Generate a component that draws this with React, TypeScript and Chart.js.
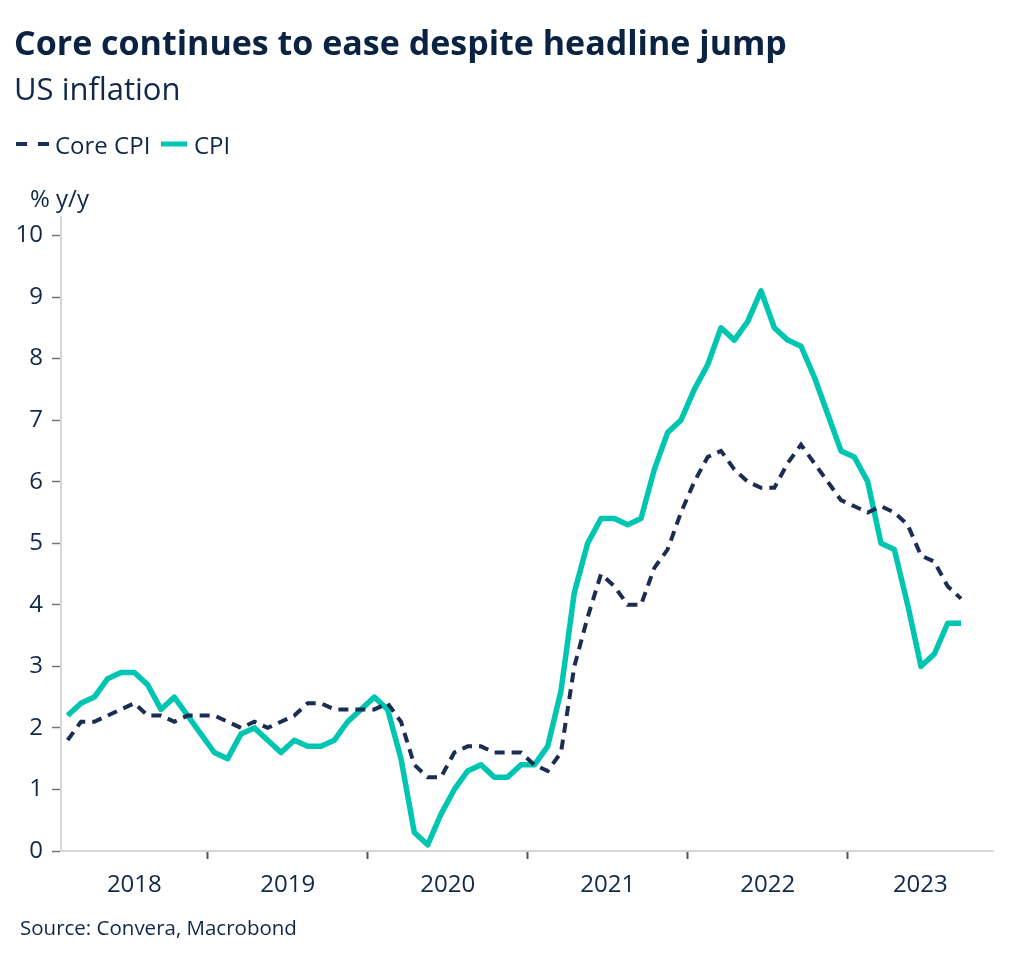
import React, { useEffect, useRef } from "react";
import { Chart, registerables } from "chart.js";

Chart.register(...registerables);

// ---- data ----
const START_YEAR = 2018;
const START_MONTH = 2; // first observation: February 2018
const yearLabels = ["2018", "2019", "2020", "2021", "2022", "2023"];
const yTickValues = [0, 1, 2, 3, 4, 5, 6, 7, 8, 9, 10];

const coreCpi = [
  1.8, 2.1, 2.1, 2.2, 2.3, 2.4, 2.2, 2.2, 2.1, 2.2, 2.2,
  2.2, 2.1, 2.0, 2.1, 2.0, 2.1, 2.2, 2.4, 2.4, 2.3, 2.3, 2.3,
  2.3, 2.4, 2.1, 1.4, 1.2, 1.2, 1.6, 1.7, 1.7, 1.6, 1.6, 1.6,
  1.4, 1.3, 1.6, 3.0, 3.8, 4.5, 4.3, 4.0, 4.0, 4.6, 4.9, 5.5,
  6.0, 6.4, 6.5, 6.2, 6.0, 5.9, 5.9, 6.3, 6.6, 6.3, 6.0, 5.7,
  5.6, 5.5, 5.6, 5.5, 5.3, 4.8, 4.7, 4.3, 4.1,
];

const cpi = [
  2.2, 2.4, 2.5, 2.8, 2.9, 2.9, 2.7, 2.3, 2.5, 2.2, 1.9,
  1.6, 1.5, 1.9, 2.0, 1.8, 1.6, 1.8, 1.7, 1.7, 1.8, 2.1, 2.3,
  2.5, 2.3, 1.5, 0.3, 0.1, 0.6, 1.0, 1.3, 1.4, 1.2, 1.2, 1.4,
  1.4, 1.7, 2.6, 4.2, 5.0, 5.4, 5.4, 5.3, 5.4, 6.2, 6.8, 7.0,
  7.5, 7.9, 8.5, 8.3, 8.6, 9.1, 8.5, 8.3, 8.2, 7.7, 7.1, 6.5,
  6.4, 6.0, 5.0, 4.9, 4.0, 3.0, 3.2, 3.7, 3.7,
];

const TITLE = "Core continues to ease despite headline jump";
const SUBTITLE = "US inflation";
const LEGEND_CORE = "Core CPI";
const LEGEND_CPI = "CPI";
const Y_UNIT = "% y/y";
const SOURCE = "Source: Convera, Macrobond";

// ---- styling ----
const NAVY = "#10284a";
const TITLE_NAVY = "#0b2343";
const TEAL = "#00c5b1";
const CORE_COLOR = "#1b2d52";
const FONT = "'Open Sans', 'Noto Sans', sans-serif";

const X_MIN = -0.5;
const X_MAX = 69.4;

export default function App() {
  const ref = useRef<HTMLCanvasElement | null>(null);

  useEffect(() => {
    const canvas = ref.current;
    if (!canvas) return;

    // x positions: month index from first observation
    const yearBoundaries = yearLabels
      .slice(1)
      .map((_, k) => (k + 1) * 12 - (START_MONTH - 1) - 0.5);
    const edges = [X_MIN, ...yearBoundaries, X_MAX];
    const labelMap = new Map<number, string>();
    const boundarySet = new Set<number>(yearBoundaries);
    const xTicks: { value: number }[] = [];
    yearLabels.forEach((lab, k) => {
      const c = (edges[k] + edges[k + 1]) / 2;
      labelMap.set(c, lab);
      xTicks.push({ value: c });
    });
    yearBoundaries.forEach((b) => xTicks.push({ value: b }));
    xTicks.sort((a, b) => a.value - b.value);

    const textPlugin = {
      id: "texts",
      afterDraw(chart: any) {
        const ctx = chart.ctx as CanvasRenderingContext2D;
        ctx.save();
        ctx.textBaseline = "alphabetic";
        ctx.textAlign = "left";
        ctx.fillStyle = TITLE_NAVY;
        ctx.font = `bold 34px ${FONT}`;
        ctx.fillText(TITLE, 14, 55);
        ctx.fillStyle = NAVY;
        ctx.font = `31px ${FONT}`;
        ctx.fillText(SUBTITLE, 14, 100);

        // legend
        ctx.font = `24px ${FONT}`;
        ctx.strokeStyle = CORE_COLOR;
        ctx.lineWidth = 4;
        ctx.setLineDash([11, 11]);
        ctx.beginPath();
        ctx.moveTo(16, 144);
        ctx.lineTo(49, 144);
        ctx.stroke();
        ctx.setLineDash([]);
        ctx.fillText(LEGEND_CORE, 55, 154);
        ctx.strokeStyle = TEAL;
        ctx.lineWidth = 5;
        ctx.beginPath();
        ctx.moveTo(161, 144);
        ctx.lineTo(187, 144);
        ctx.stroke();
        ctx.fillText(LEGEND_CPI, 194, 154);

        // unit
        ctx.font = `24px ${FONT}`;
        ctx.fillText(Y_UNIT, 30, 207);

        // source
        ctx.font = `20.5px ${FONT}`;
        ctx.fillText(SOURCE, 20, 935);
        ctx.restore();
      },
    };

    const chart = new Chart(canvas, {
      type: "line",
      data: {
        datasets: [
          {
            label: LEGEND_CORE,
            data: coreCpi.map((v, i) => ({ x: i, y: v })),
            borderColor: CORE_COLOR,
            borderWidth: 4,
            borderDash: [10, 7],
            pointRadius: 0,
            fill: false,
            tension: 0,
          },
          {
            label: LEGEND_CPI,
            data: cpi.map((v, i) => ({ x: i, y: v })),
            borderColor: TEAL,
            borderWidth: 5.5,
            borderJoinStyle: "round",
            pointRadius: 0,
            fill: false,
            tension: 0,
          },
        ],
      },
      options: {
        animation: false,
        responsive: true,
        maintainAspectRatio: false,
        layout: { padding: { top: 217, right: 31, left: 0, bottom: 0 } },
        plugins: {
          legend: { display: false },
          tooltip: { enabled: false },
          title: { display: false },
        },
        scales: {
          x: {
            type: "linear",
            min: X_MIN,
            max: X_MAX,
            afterBuildTicks: (scale: any) => {
              scale.ticks = xTicks.map((t) => ({ ...t }));
            },
            afterFit: (scale: any) => {
              scale.height = 111;
            },
            ticks: {
              autoSkip: false,
              maxRotation: 0,
              padding: 12,
              color: NAVY,
              font: { family: FONT, size: 24 },
              callback: (v: any) => labelMap.get(Number(v)) ?? "",
            },
            grid: {
              drawOnChartArea: false,
              drawTicks: true,
              tickLength: 8,
              tickWidth: 2,
              tickColor: (ctx: any) =>
                ctx.tick && boundarySet.has(ctx.tick.value) ? "#555555" : "rgba(0,0,0,0)",
            },
            border: { color: "#d6d6d6", width: 2 },
          },
          y: {
            type: "linear",
            min: 0,
            max: 10.3,
            afterBuildTicks: (scale: any) => {
              scale.ticks = yTickValues.map((v) => ({ value: v }));
            },
            afterFit: (scale: any) => {
              scale.width = 61;
            },
            ticks: {
              padding: 9,
              color: NAVY,
              font: { family: FONT, size: 24 },
              callback: (v: any) => String(v),
            },
            grid: {
              drawOnChartArea: false,
              drawTicks: true,
              tickLength: 9,
              tickWidth: 1.5,
              tickColor: "#777777",
            },
            border: { color: "#d6d6d6", width: 2 },
          },
        },
      },
      plugins: [textPlugin],
    });

    return () => chart.destroy();
  }, []);

  return (
    <>
      <style>{"body{margin:0;background:#fff}"}</style>
      <div style={{ position: "relative", width: 1024, height: 962 }}>
        <canvas ref={ref} />
      </div>
    </>
  );
}
